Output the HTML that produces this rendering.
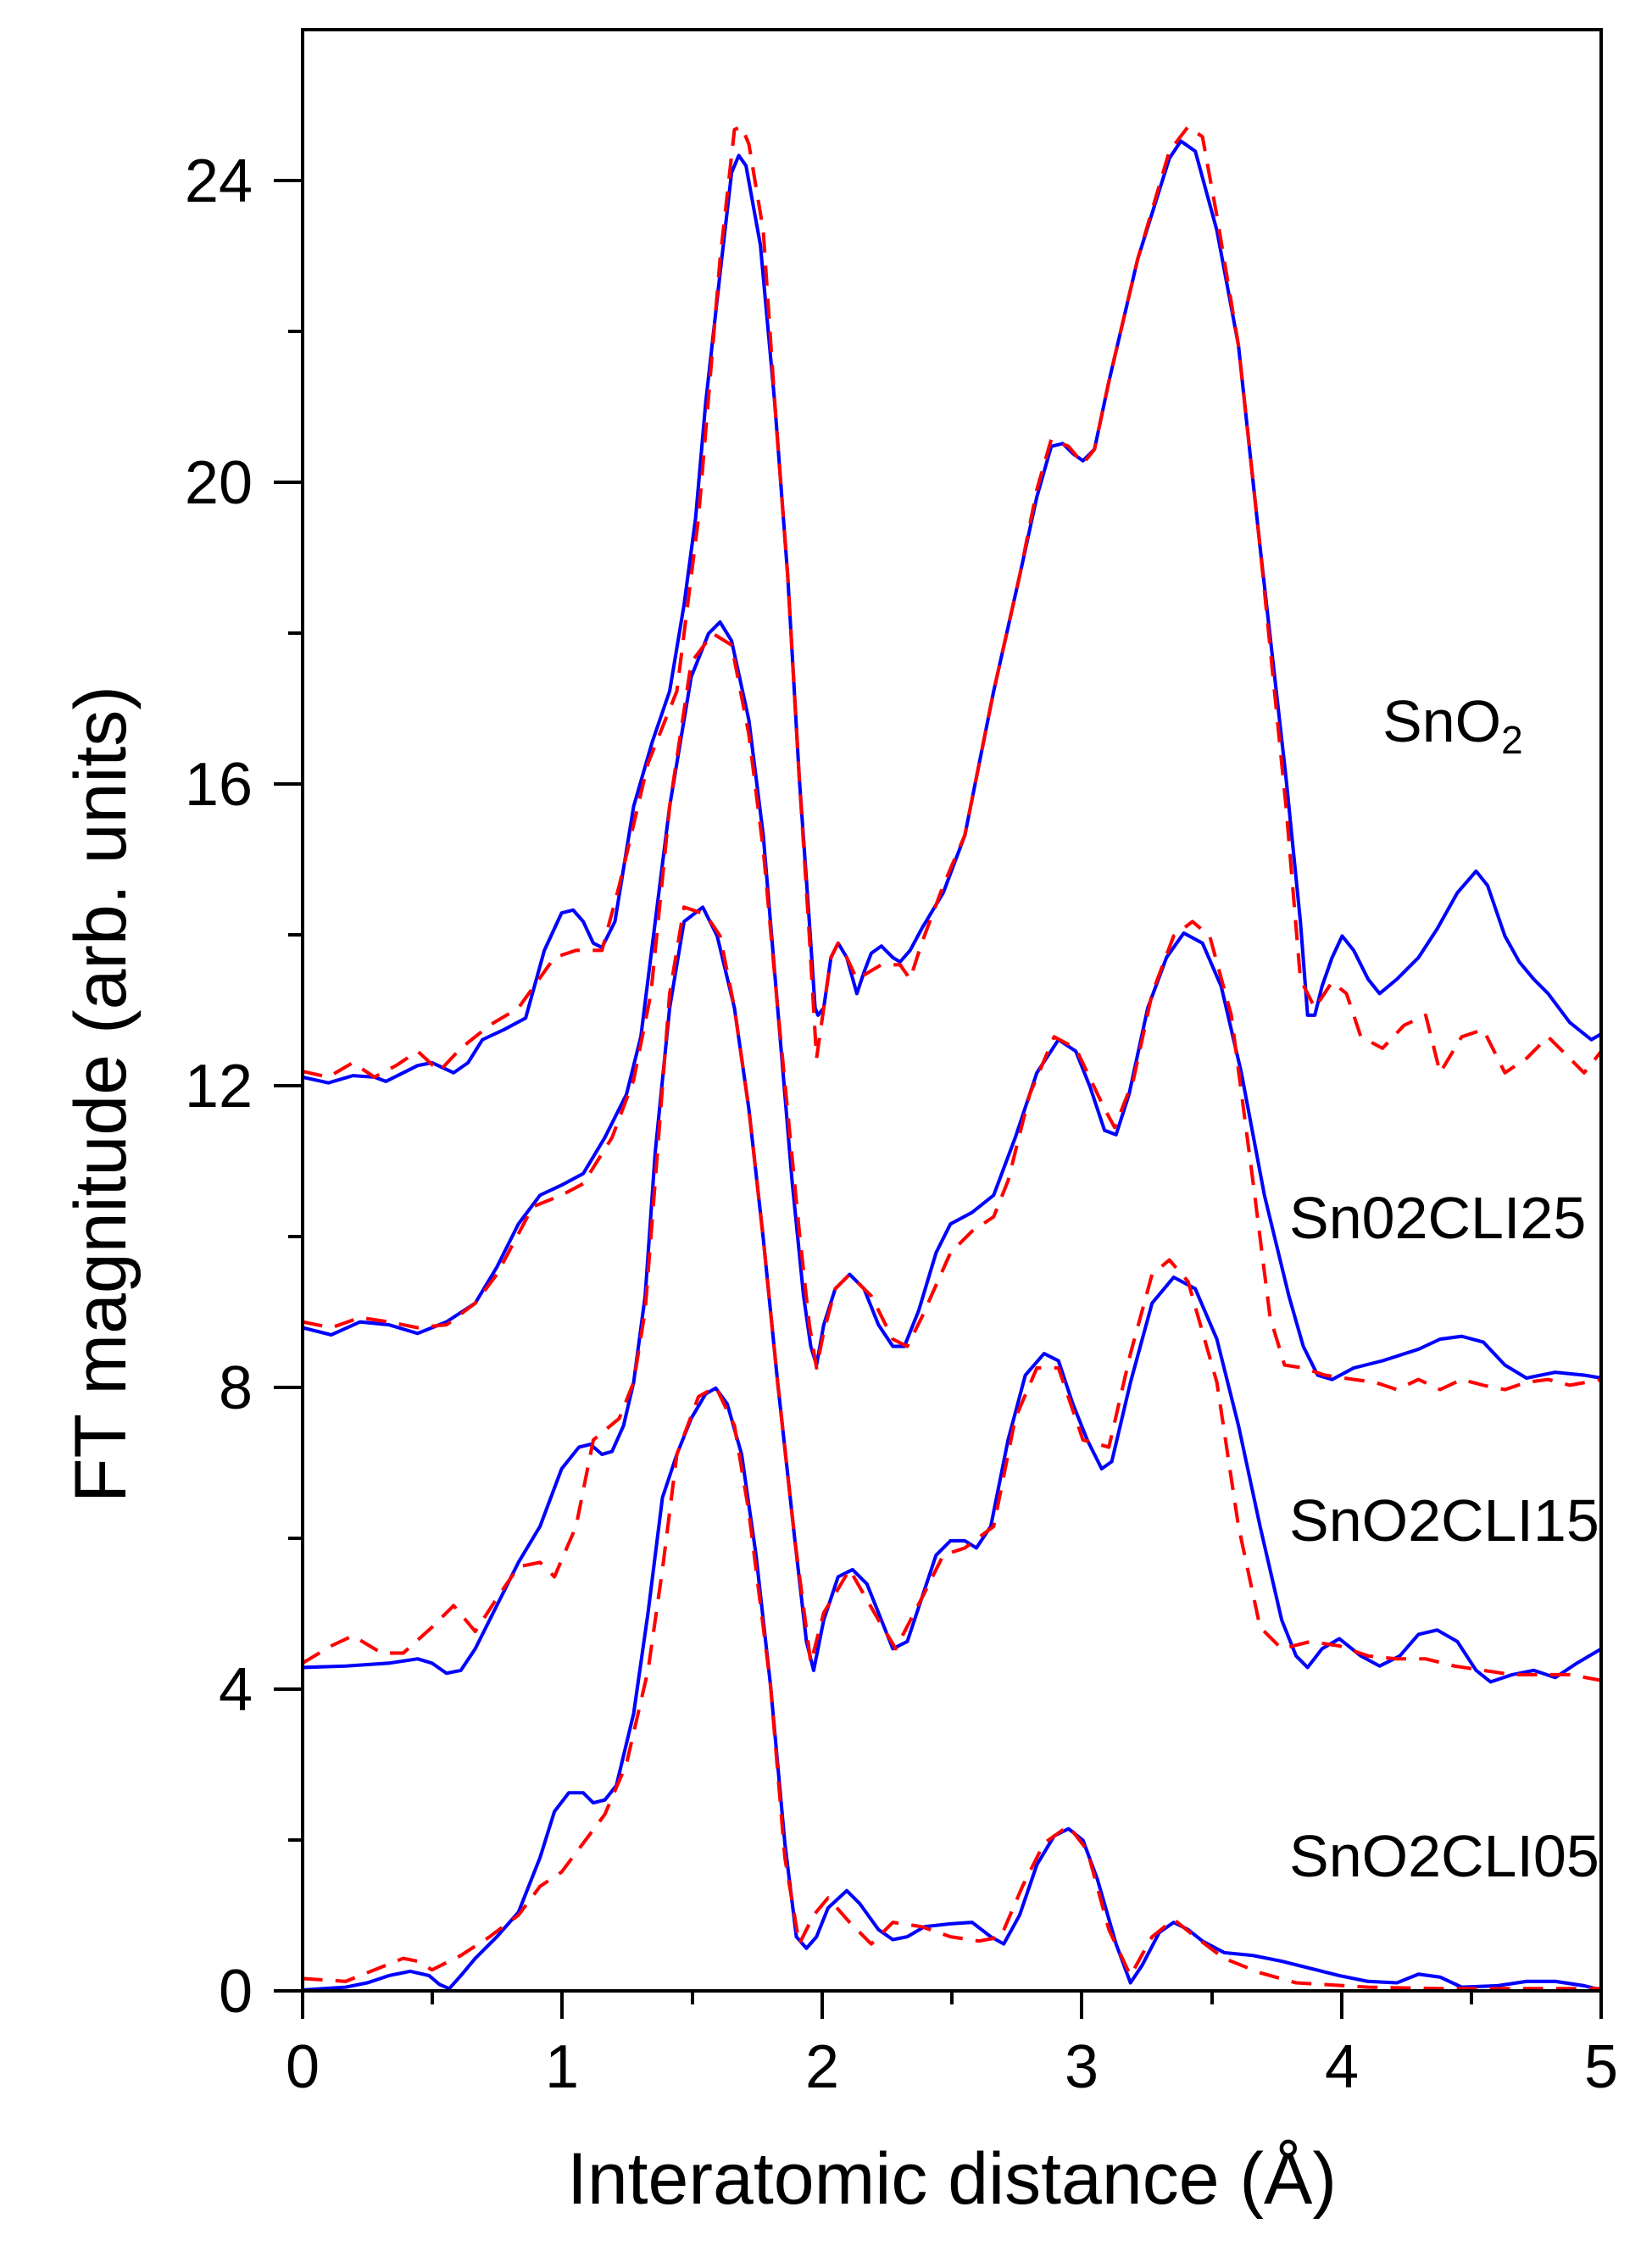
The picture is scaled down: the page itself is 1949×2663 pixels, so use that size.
<!DOCTYPE html>
<html><head><meta charset="utf-8"><style>
html,body{margin:0;padding:0;background:#fff}
svg{display:block}
text{font-family:"Liberation Sans",Arial,sans-serif;fill:#000}
</style></head><body>
<svg width="1949" height="2663" viewBox="0 0 1949 2663" xmlns="http://www.w3.org/2000/svg">
<rect width="1949" height="2663" fill="#fff"/>
<g transform="scale(1.699)" fill="none" stroke-linejoin="round" stroke-linecap="butt">
<!-- SnO2 -->
<polyline stroke="#0000ff" stroke-width="2.4" points="210,748 228,752 245,747 260,748 268,751 280,745 290,740 300,738 315,745 325,738 335,722 350,715 365,707 378,660 390,634 398,632 405,640 412,655 418,658 427,640 440,560 453,515 465,480 475,420 483,360 490,280 500,190 508,120 513,108 518,115 528,170 538,280 547,400 555,540 562,640 566,700 568,705 572,700 577,665 582,655 588,665 595,690 600,675 605,662 612,657 620,665 625,668 632,660 640,645 655,620 670,580 690,480 708,400 720,345 730,310 738,308 745,315 752,320 760,312 770,265 790,180 812,110 820,98 830,105 845,160 860,240 875,380 893,540 903,640 908,705 913,705 918,685 925,665 932,650 940,660 950,680 958,690 970,680 985,665 998,645 1012,620 1025,605 1033,615 1045,650 1055,668 1065,680 1075,690 1090,710 1105,722 1112,718"/>
<polyline stroke="#ff0000" stroke-width="2.4" stroke-dasharray="14,9" points="210,744 228,748 245,738 260,748 275,740 290,730 305,744 320,728 340,712 360,700 385,665 400,660 418,660 430,615 450,530 470,480 485,360 500,180 510,90 515,88 520,100 530,160 538,280 547,400 555,540 562,650 567,735 572,700 577,665 582,655 588,665 595,680 612,670 625,670 632,680 640,655 655,615 670,580 690,480 708,400 720,340 730,305 742,310 752,322 760,312 770,265 790,180 812,105 825,88 835,95 845,150 860,240 875,380 893,560 903,680 913,700 925,682 935,690 945,720 960,728 975,712 990,705 1000,745 1015,720 1030,715 1045,745 1060,735 1075,720 1090,735 1100,745 1112,730"/>
<!-- CLI25 -->
<polyline stroke="#0000ff" stroke-width="2.4" points="210,922 230,927 250,918 270,920 290,926 310,918 330,905 345,880 360,850 375,830 390,823 405,815 420,790 435,760 445,720 455,640 465,560 480,470 492,440 500,432 508,445 520,500 530,580 540,700 550,820 558,900 563,935 567,948 572,920 580,895 590,885 600,895 610,920 620,935 628,935 638,910 650,870 660,850 675,842 690,830 705,790 720,745 735,722 747,730 757,755 767,785 775,788 784,760 797,700 810,665 822,648 835,655 848,685 862,745 878,830 895,900 905,935 915,955 925,958 940,950 960,945 985,937 1000,930 1015,928 1030,932 1045,948 1060,957 1070,955 1080,953 1100,955 1112,957"/>
<polyline stroke="#ff0000" stroke-width="2.4" stroke-dasharray="14,9" points="210,918 230,922 250,915 270,918 290,922 310,920 330,905 345,885 370,838 390,830 405,822 425,790 440,750 452,690 465,560 480,460 495,440 508,448 520,510 530,590 540,700 555,855 562,920 567,950 572,925 580,895 590,885 605,900 620,930 630,935 640,915 660,870 675,855 690,845 700,820 715,760 732,720 747,728 767,770 774,783 787,750 800,690 815,650 828,640 840,650 855,705 870,820 882,915 892,948 905,950 920,955 940,958 955,960 970,965 985,958 1000,965 1015,958 1030,962 1045,965 1060,960 1075,958 1090,962 1112,958"/>
<!-- CLI15 -->
<polyline stroke="#0000ff" stroke-width="2.4" points="210,1158 240,1157 270,1155 290,1152 300,1155 310,1162 320,1160 330,1145 345,1115 360,1085 375,1060 390,1020 402,1005 410,1003 418,1010 425,1008 433,990 440,960 448,900 455,800 465,700 475,640 488,630 498,650 510,700 520,770 530,860 540,960 552,1070 560,1140 565,1160 572,1125 582,1095 592,1090 602,1100 612,1125 620,1145 630,1140 640,1110 650,1080 660,1070 670,1070 678,1075 688,1060 700,1000 712,955 725,940 735,945 745,975 755,1000 765,1020 772,1015 785,960 800,905 815,887 830,895 845,930 860,990 875,1060 890,1125 900,1150 908,1158 918,1145 930,1138 945,1150 958,1157 972,1150 985,1135 998,1132 1012,1140 1025,1160 1035,1168 1050,1163 1065,1160 1080,1165 1095,1155 1112,1145"/>
<polyline stroke="#ff0000" stroke-width="2.4" stroke-dasharray="14,9" points="210,1155 230,1143 245,1136 265,1148 280,1148 300,1130 315,1115 330,1133 345,1110 360,1088 375,1085 385,1095 400,1060 412,1000 430,985 440,960 448,910 455,820 465,690 475,630 490,635 500,650 510,700 520,770 530,860 540,960 552,1070 563,1155 572,1120 590,1090 610,1125 622,1145 640,1110 655,1080 670,1075 690,1060 705,985 720,950 735,950 752,1000 770,1005 785,940 800,885 812,875 825,890 845,960 860,1060 875,1130 890,1145 910,1140 930,1143 950,1150 970,1152 990,1152 1010,1157 1030,1160 1050,1163 1070,1163 1090,1163 1112,1167"/>
<!-- CLI05 -->
<polyline stroke="#0000ff" stroke-width="2.4" points="210,1382 225,1381 240,1380 255,1377 270,1372 285,1369 298,1372 305,1378 312,1381 320,1372 330,1360 345,1345 360,1328 375,1290 385,1258 395,1245 405,1245 412,1252 420,1250 428,1240 440,1190 450,1120 460,1040 470,1010 480,985 490,968 497,964 505,975 515,1010 525,1080 535,1170 545,1280 553,1345 560,1353 567,1345 575,1325 588,1313 597,1322 610,1340 620,1347 630,1345 642,1338 660,1336 675,1335 688,1345 697,1350 708,1330 720,1295 732,1275 742,1270 752,1278 762,1305 775,1350 785,1377 793,1365 805,1342 815,1335 825,1340 835,1348 850,1356 870,1358 890,1362 910,1367 930,1372 950,1376 970,1377 985,1371 1000,1373 1015,1380 1040,1379 1060,1376 1080,1376 1100,1379 1112,1382"/>
<polyline stroke="#ff0000" stroke-width="2.4" stroke-dasharray="14,9" points="210,1374 240,1376 260,1368 280,1360 290,1362 300,1368 320,1358 340,1345 360,1330 375,1310 390,1300 405,1280 420,1260 435,1225 450,1160 460,1090 470,1010 485,970 497,963 510,990 520,1050 535,1170 545,1290 555,1350 565,1330 575,1318 590,1335 605,1350 620,1335 640,1338 660,1345 680,1348 695,1345 710,1310 725,1280 742,1268 755,1285 770,1340 785,1372 800,1345 815,1333 830,1345 850,1360 875,1370 900,1377 950,1380 1000,1381 1112,1381"/>
</g>
<!-- frame -->
<rect x="357" y="35" width="1532" height="2314" fill="none" stroke="#000" stroke-width="4"/>
<g stroke="#000" stroke-width="4">
<line x1="323" y1="2349" x2="357" y2="2349"/>
<line x1="340" y1="2171" x2="357" y2="2171"/>
<line x1="323" y1="1993" x2="357" y2="1993"/>
<line x1="340" y1="1815" x2="357" y2="1815"/>
<line x1="323" y1="1637" x2="357" y2="1637"/>
<line x1="340" y1="1459" x2="357" y2="1459"/>
<line x1="323" y1="1281" x2="357" y2="1281"/>
<line x1="340" y1="1103" x2="357" y2="1103"/>
<line x1="323" y1="925" x2="357" y2="925"/>
<line x1="340" y1="747" x2="357" y2="747"/>
<line x1="323" y1="569" x2="357" y2="569"/>
<line x1="340" y1="391" x2="357" y2="391"/>
<line x1="323" y1="213" x2="357" y2="213"/>
<line x1="357" y1="2349" x2="357" y2="2382"/>
<line x1="510" y1="2349" x2="510" y2="2365"/>
<line x1="663" y1="2349" x2="663" y2="2382"/>
<line x1="817" y1="2349" x2="817" y2="2365"/>
<line x1="970" y1="2349" x2="970" y2="2382"/>
<line x1="1123" y1="2349" x2="1123" y2="2365"/>
<line x1="1276" y1="2349" x2="1276" y2="2382"/>
<line x1="1430" y1="2349" x2="1430" y2="2365"/>
<line x1="1583" y1="2349" x2="1583" y2="2382"/>
<line x1="1736" y1="2349" x2="1736" y2="2365"/>
<line x1="1889" y1="2349" x2="1889" y2="2382"/>
</g>
<g font-size="72" text-anchor="end">
<text x="298" y="2374">0</text>
<text x="298" y="2018">4</text>
<text x="298" y="1662">8</text>
<text x="298" y="1306">12</text>
<text x="298" y="950">16</text>
<text x="298" y="594">20</text>
<text x="298" y="238">24</text>
</g>
<g font-size="72" text-anchor="middle">
<text x="357" y="2463">0</text>
<text x="663" y="2463">1</text>
<text x="970" y="2463">2</text>
<text x="1276" y="2463">3</text>
<text x="1583" y="2463">4</text>
<text x="1889" y="2463">5</text>
</g>
<text x="1123" y="2600" font-size="86" text-anchor="middle">Interatomic distance (Å)</text>
<text transform="translate(148,1291) rotate(-90)" font-size="86" text-anchor="middle">FT magnitude (arb. units)</text>
<g font-size="70">
<text x="1631" y="875">SnO<tspan font-size="46" dy="14">2</tspan></text>
<text x="1521" y="1461">Sn02CLI25</text>
<text x="1521" y="1818">SnO2CLI15</text>
<text x="1521" y="2214">SnO2CLI05</text>
</g>
</svg>
</body></html>
